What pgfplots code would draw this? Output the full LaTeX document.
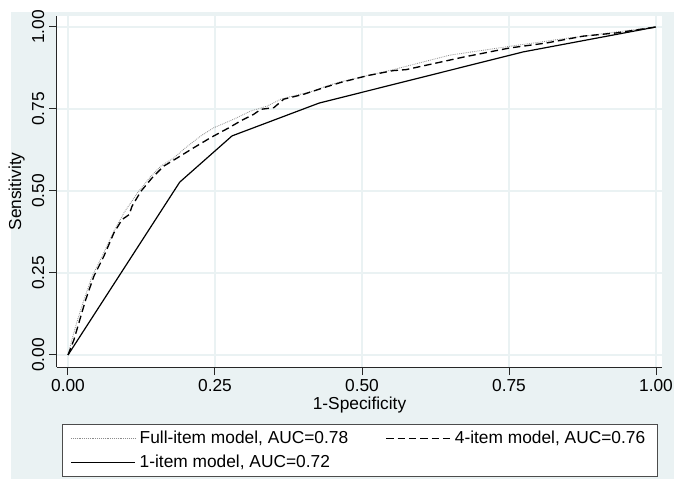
\documentclass[border=0pt]{standalone}
\usepackage{pgfplots}
\pgfplotsset{compat=1.18}
\usepackage{fontspec}
\setmainfont{Liberation Sans}

\definecolor{stbg}{HTML}{EAF2F3}
\definecolor{stgrid}{HTML}{EAF2F3}
\definecolor{dotgray}{HTML}{8C8C8C}

\begin{document}
\begin{tikzpicture}
% 1px = 0.75pt, axis lower left corner at (0,0)
\useasboundingbox (-42.75pt,-83.25pt) rectangle (462.75pt,275.25pt);
\clip (-42.75pt,-83.25pt) rectangle (462.75pt,275.25pt);
\fill[white] (-42.75pt,-83.25pt) rectangle (462.75pt,275.25pt);
\fill[stbg] (-34.5pt,-90pt) rectangle (470pt,266.25pt);
\begin{axis}[
    scale only axis,
    width=453.75pt,
    height=263.25pt,
    xmin=-0.0187, xmax=1.0102,
    ymin=-0.0366, ymax=1.0335,
    axis x line*=bottom,
    axis y line*=left,
    axis line style={black!85, line width=0.75pt},
    axis background/.style={fill=white},
    xtick={0,0.25,0.5,0.75,1},
    ytick={0,0.25,0.5,0.75,1},
    xticklabels={0.00,0.25,0.50,0.75,1.00},
    yticklabels={0.00,0.25,0.50,0.75,1.00},
    tick align=outside,
    major tick length=6pt,
    tick style={black!85, line width=0.75pt},
    grid=major,
    major grid style={stgrid, line width=1pt},
    ticklabel style={font=\fontsize{13}{15}\selectfont},
    yticklabel style={rotate=90, anchor=south},
    xlabel={1-Specificity},
    ylabel={Sensitivity},
    every axis x label/.style={at={(axis description cs:0.5,-0.108)}, anchor=center,
        font=\fontsize{13}{15}\selectfont},
    every axis y label/.style={at={(axis description cs:-0.0665,0.5)}, anchor=center,
        rotate=90, font=\fontsize{13}{15}\selectfont},
    legend columns=2,
    legend cell align=left,
    legend style={
        at={(rel axis cs:0.00826,-0.1624)}, anchor=north west,
        draw=black!70, line width=0.75pt, fill=white,
        font=\fontsize{13}{15}\selectfont,
        inner xsep=6pt, inner ysep=3pt,
        row sep=3pt,
        /tikz/every even column/.append style={column sep=25pt},
        nodes={inner xsep=3pt},
    },
    legend image code/.code={\draw[#1] (0pt,0pt) -- (48pt,0pt);},
]
\addplot[dotgray, line width=0.6pt, dash pattern=on 0.6pt off 0.8pt] coordinates {
(0,0) (0.005,0.036) (0.015,0.10) (0.027,0.168) (0.041,0.240) (0.058,0.301)
(0.078,0.377) (0.095,0.433) (0.118,0.494) (0.141,0.545) (0.158,0.576)
(0.180,0.601) (0.200,0.632) (0.226,0.668) (0.248,0.693) (0.282,0.719)
(0.311,0.744) (0.339,0.759) (0.362,0.780) (0.384,0.790) (0.418,0.805)
(0.441,0.821) (0.464,0.833) (0.510,0.852) (0.553,0.870) (0.649,0.914)
(0.751,0.941) (0.842,0.964) (0.933,0.985) (1,1)
};
\addlegendentry{Full-item model, AUC=0.78}
\addplot[black, line width=1pt, dash pattern=on 5.5pt off 3pt] coordinates {
(0,0) (0.010,0.046) (0.030,0.168) (0.044,0.240) (0.061,0.301) (0.078,0.372)
(0.092,0.413) (0.104,0.428) (0.109,0.454) (0.124,0.499) (0.143,0.540)
(0.163,0.576) (0.186,0.601) (0.214,0.632) (0.243,0.663) (0.274,0.693)
(0.294,0.714) (0.316,0.734) (0.328,0.749) (0.350,0.754) (0.367,0.780)
(0.401,0.795) (0.435,0.815) (0.464,0.831) (0.510,0.852) (0.553,0.867)
(0.575,0.870) (0.672,0.908) (0.751,0.936) (0.813,0.951) (0.876,0.972)
(0.933,0.982) (1,1)
};
\addlegendentry{4-item model, AUC=0.76}
\addplot[black, line width=0.9pt] coordinates {
(0,0) (0.190,0.527) (0.279,0.668) (0.427,0.768) (0.774,0.924) (1,1)
};
\addlegendentry{1-item model, AUC=0.72}
\end{axis}
\end{tikzpicture}
\end{document}
